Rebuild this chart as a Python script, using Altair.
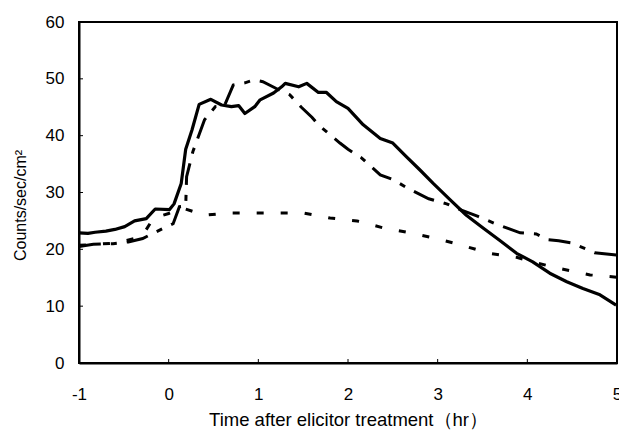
import altair as alt
import pandas as pd

# ---- data ----
solid_x = [-1.0, -0.9, -0.82, -0.7, -0.6, -0.49, -0.38, -0.25, -0.15, 0.01, 0.06, 0.14, 0.19, 0.26,
           0.34, 0.47, 0.59, 0.70, 0.78, 0.85, 0.96, 1.02, 1.17, 1.26, 1.30, 1.45, 1.54, 1.67, 1.76,
           1.87, 2.00, 2.17, 2.36, 2.50, 2.65, 2.80, 2.95, 3.14, 3.32, 3.51, 3.69, 3.88, 4.06, 4.25,
           4.44, 4.62, 4.81, 4.99]
solid_y = [22.9, 22.8, 23.0, 23.2, 23.5, 24.0, 25.0, 25.4, 27.1, 27.0, 28.0, 31.6, 37.6, 41.0,
           45.5, 46.4, 45.4, 45.1, 45.3, 43.9, 45.1, 46.3, 47.5, 48.6, 49.2, 48.6, 49.2, 47.6, 47.6,
           46.0, 44.8, 41.9, 39.5, 38.7, 36.3, 34.0, 31.6, 28.7, 26.0, 23.7, 21.6, 19.3, 17.8, 15.8,
           14.3, 13.1, 12.0, 10.2]

long_x = [-1.0, -0.84, -0.62, -0.45, -0.29, -0.06, 0.05, 0.12, 0.19, 0.20, 0.27, 0.40, 0.52, 0.62,
          0.72, 0.85, 0.95, 1.05, 1.20, 1.35, 1.48, 1.60, 1.67, 1.91, 2.00, 2.15, 2.36, 2.50, 2.66,
          2.90, 3.10, 3.25, 3.45, 3.66, 3.80, 3.92, 4.10, 4.23, 4.35, 4.50, 4.75, 5.00]
long_y = [20.5, 20.9, 21.0, 21.3, 21.9, 23.7, 24.5, 27.5, 27.6, 32.8, 37.2, 42.8, 45.1, 45.2,
          48.9, 49.3, 49.8, 49.5, 48.3, 47.2, 45.0, 43.2, 41.9, 38.7, 37.6, 36.1, 33.1, 32.3, 30.8,
          28.9, 28.0, 27.0, 25.8, 24.4, 23.6, 22.9, 22.7, 21.7, 21.5, 21.1, 19.4, 19.0]

short_x = [-1.0, -0.6, -0.3, -0.17, 0.0, 0.15, 0.40, 0.66, 0.94, 1.24, 1.50, 1.80, 2.10, 2.41,
           2.66, 2.96, 3.25, 3.58, 3.88, 4.10, 4.40, 4.70, 5.00]
short_y = [20.7, 21.1, 22.2, 25.5, 26.3, 27.3, 26.0, 26.4, 26.4, 26.4, 26.4, 25.5, 25.0, 23.7,
           23.0, 22.0, 20.8, 19.3, 18.6, 17.6, 16.5, 15.5, 15.1]

x_ticks = [-1, 0, 1, 2, 3, 4, 5]
y_ticks = [0, 10, 20, 30, 40, 50, 60]
x_inner_ticks = [0, 1, 2, 3, 4]
y_inner_ticks = [10, 20, 30, 40, 50]

W, H = 538, 341
FONT = "Liberation Sans"

rows = []
for name, xs, ys in [("solid", solid_x, solid_y), ("long", long_x, long_y), ("short", short_x, short_y)]:
    rows += [{"series": name, "t": a, "v": b} for a, b in zip(xs, ys)]
df = pd.DataFrame(rows)

xscale = alt.Scale(domain=[-1, 5], nice=False, zero=False)
yscale = alt.Scale(domain=[0, 60], nice=False, zero=False)

xaxis = alt.Axis(values=x_ticks, tickSize=0, labelFontSize=17, labelFont=FONT, labelColor="black",
                 labelPadding=23, labelExpr="'' + datum.value",
                 title="Time after elicitor treatment（hr）", titleFontSize=18.5,
                 titleFont=FONT, titleFontWeight="normal", titleColor="black", titlePadding=8,
                 grid=False, domainColor="black", domainWidth=2, labelFlush=False)
yaxis = alt.Axis(values=y_ticks, tickSize=0, labelFontSize=17, labelFont=FONT, labelColor="black",
                 labelPadding=15, title="Counts/sec/cm²", titleFontSize=16, titleFont=FONT,
                 titleFontWeight="normal", titleColor="black", titleAngle=270,
                 titleX=-59, titleY=183, titleAlign="center", titleBaseline="middle",
                 grid=False, domainColor="black", domainWidth=2, labelFlush=False)

X = alt.X("t:Q", scale=xscale, axis=xaxis)
Y = alt.Y("v:Q", scale=yscale, axis=yaxis)

base = alt.Chart(df)

solid = base.transform_filter(alt.datum.series == "solid").mark_line(
    color="black", strokeWidth=3.2, strokeJoin="round").encode(x=X, y=Y, order="t:Q")
longd = base.transform_filter(alt.datum.series == "long").mark_line(
    color="black", strokeWidth=3.0, strokeDash=[22, 10, 6, 10], strokeCap="butt").encode(x=X, y=Y, order="t:Q")
shortd = base.transform_filter(alt.datum.series == "short").mark_line(
    color="black", strokeWidth=3.0, strokeDash=[7, 17], strokeCap="butt").encode(x=X, y=Y, order="t:Q")

ytick = alt.Chart(pd.DataFrame({"v": y_inner_ticks})).mark_rule(color="black", strokeWidth=1).encode(
    y=Y, x=alt.value(0), x2=alt.value(4))
xtick = alt.Chart(pd.DataFrame({"t": x_inner_ticks})).mark_rule(color="black", strokeWidth=1).encode(
    x=X, y=alt.value(H), y2=alt.value(H - 4))

chart = alt.layer(ytick, xtick, shortd, longd, solid).properties(
    width=W, height=H,
    autosize=alt.AutoSizeParams(type="none"),
    padding={"left": 79, "top": 22, "right": 2, "bottom": 67},
    background="white",
).configure_view(stroke="black", strokeWidth=2)

chart.save("out.html", embed_options={"renderer": "svg", "actions": False})
